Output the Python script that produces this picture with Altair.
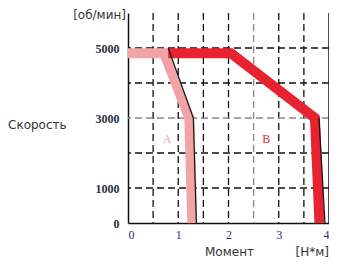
import altair as alt
import pandas as pd

# curve A (light pink band) centre line
a_torque = [0.0, 0.72, 1.22, 1.28]
a_speed = [4850, 4850, 3000, 0]
# curve B (red band) centre line
b_torque = [0.8, 2.05, 3.72, 3.81]
b_speed = [4850, 4850, 3000, 0]
# thin black edges
a_edge_torque = [0.8, 1.3, 1.36]
a_edge_speed = [5000, 3000, 0]
b_edge_torque = [3.8, 3.92]
b_edge_speed = [3000, 0]

x_grid = [0.5, 1.0, 1.5, 2.0, 2.5, 3.0, 3.5]
x_grid_col = ["#111", "#111", "#111", "#111", "#888", "#111", "#111"]
y_grid = [1000, 2000, 3000, 4000, 5000]
y_grid_col = ["#111", "#111", "#888", "#111", "#111"]
y_ticks = [0, 1000, 3000, 5000]
x_ticks = [0, 1, 2, 3, 4]

xs = alt.Scale(domain=[0, 4], nice=False)
ys = alt.Scale(domain=[0, 6000], nice=False)

W, H = 201, 210

x_axis = alt.Axis(
    values=x_ticks, grid=False, ticks=False, domainColor="#111", domainWidth=1.5,
    labelFont="Liberation Serif", labelFontSize=12, labelColor="#1d3470",
    labelPadding=6, title=None, format="d")
y_axis = alt.Axis(
    values=y_ticks, grid=False, ticks=False, domainColor="#111", domainWidth=1.5,
    labelFont="Liberation Serif", labelFontSize=12, labelFontWeight="bold",
    labelColor="#2a3040", labelPadding=9, title=None, format="d")

base_x = alt.X("t:Q", scale=xs, axis=x_axis)
base_y = alt.Y("s:Q", scale=ys, axis=y_axis)


def path(t, s):
    return pd.DataFrame({"t": t, "s": s, "o": list(range(len(t)))})


vgrid = alt.Chart(pd.DataFrame({"t": x_grid, "c": x_grid_col})).mark_rule(
    strokeDash=[7, 4], strokeWidth=1.3).encode(
    x=base_x, color=alt.Color("c:N", scale=None))
hgrid = alt.Chart(pd.DataFrame({"s": y_grid, "c": y_grid_col})).mark_rule(
    strokeDash=[7, 4], strokeWidth=1.3).encode(
    y=base_y, color=alt.Color("c:N", scale=None))
right_border = alt.Chart(pd.DataFrame({"t": [4]})).mark_rule(
    color="#111", strokeWidth=1.5).encode(x=base_x)

band_a = alt.Chart(path(a_torque, a_speed)).mark_line(
    color="#f2a3a6", strokeWidth=10, strokeJoin="miter").encode(
    x=base_x, y=base_y, order="o:O")
band_b = alt.Chart(path(b_torque, b_speed)).mark_line(
    color="#e8222e", strokeWidth=10, strokeJoin="miter").encode(
    x=base_x, y=base_y, order="o:O")
edge_a = alt.Chart(path(a_edge_torque, a_edge_speed)).mark_line(
    color="#111", strokeWidth=1.2).encode(x=base_x, y=base_y, order="o:O")
edge_b = alt.Chart(path(b_edge_torque, b_edge_speed)).mark_line(
    color="#111", strokeWidth=1.2).encode(x=base_x, y=base_y, order="o:O")

lab_df = pd.DataFrame({"t": [0.78, 2.75], "s": [2400, 2400], "l": ["A", "B"],
                       "c": ["#f2a3a6", "#e8222e"]})
labels = alt.Chart(lab_df).mark_text(font="Liberation Serif", fontSize=12).encode(
    x=base_x, y=base_y, text="l:N", color=alt.Color("c:N", scale=None))


def txt(s, x, y, align):
    return alt.Chart(pd.DataFrame({"l": [s]})).mark_text(
        font="DejaVu Sans", fontSize=12, color="#333", align=align, baseline="middle"
    ).encode(x=alt.value(x), y=alt.value(y), text="l:N")


t1 = txt("[об/мин]", -2, 2, "right")
t2 = txt("Скорость", -120, 112, "left")
t3 = txt("Момент", 77, 239, "left")
t4 = txt("[Н*м]", 201, 239, "right")

chart = alt.layer(vgrid, hgrid, right_border, band_a, band_b, edge_a, edge_b,
                  labels, t1, t2, t3, t4).properties(
    width=W, height=H,
    autosize=alt.AutoSizeParams(type="none"),
    padding={"left": 120, "top": 5, "right": 0, "bottom": 36},
).configure_view(stroke=None)

chart.save("out.html", embed_options={"renderer": "svg", "actions": False})
